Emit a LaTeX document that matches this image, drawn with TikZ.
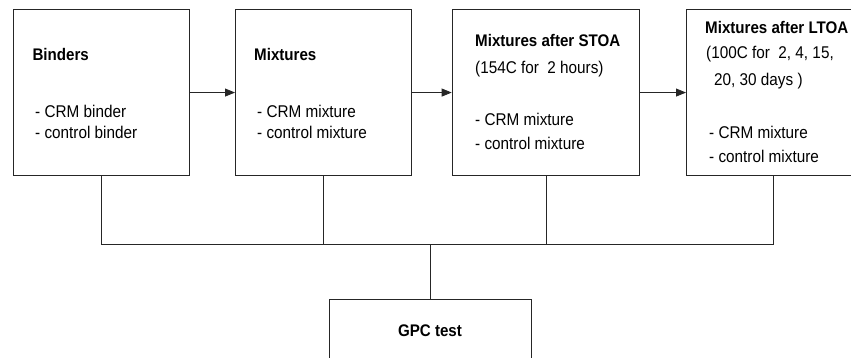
\documentclass[tikz,border=0pt]{standalone}
\usepackage{fontspec}
\setmainfont{Liberation Sans}[FakeStretch=0.9]
\usetikzlibrary{arrows.meta}
\begin{document}
\begin{tikzpicture}[x=1pt,y=-1pt,
  box/.style={draw=black!85, line width=0.8pt, inner sep=0pt, anchor=north west},
  txt/.style={inner sep=0pt, anchor=base west, font=\fontsize{17}{20}\selectfont},
  ttl/.style={inner sep=0pt, anchor=base west, font=\fontsize{16.8}{20}\selectfont\bfseries},
  conn/.style={draw=black!85, line width=0.8pt},
  arr/.style={conn, -{Triangle[length=10pt,width=8pt]}}]
\useasboundingbox (0,0) rectangle (851,358);
% boxes
\node[box, minimum width=176pt, minimum height=166.3pt] (b1) at (12.7,9) {};
\node[box, minimum width=175.7pt, minimum height=166.3pt] (b2) at (235,9) {};
\node[box, minimum width=187.6pt, minimum height=166.3pt] (b3) at (451.7,9) {};
\node[box, minimum width=174pt, minimum height=166.3pt] (b4) at (686,9) {};
\node[box, minimum width=202pt, minimum height=90pt] (g) at (329,299) {};
% texts box 1
\node[ttl] (t1a) at (32.3,61) {Binders};
\node[txt] (t1b) at (35,118) {- CRM binder};
\node[txt] (t1c) at (35,139) {- control binder};
% box 2
\node[ttl] (t2a) at (254,61) {Mixtures};
\node[txt] (t2b) at (257,118) {- CRM mixture};
\node[txt] (t2c) at (257,139) {- control mixture};
% box 3
\node[ttl] (t3a) at (475,47) {Mixtures after STOA};
\node[txt] (t3b) at (475,74) {(154C for\ \ 2 hours)};
\node[txt] (t3c) at (475,126) {- CRM mixture};
\node[txt] (t3d) at (475,150) {- control mixture};
% box 4
\node[ttl] (t4a) at (705,34) {Mixtures after LTOA};
\node[txt] (t4b) at (706,59) {(100C for\ \ 2, 4, 15,};
\node[txt] (t4c) at (714,86) {20, 30 days )};
\node[txt] (t4d) at (709,139) {- CRM mixture};
\node[txt] (t4e) at (709,163) {- control mixture};
% GPC
\node[ttl, anchor=base] (tg) at (430,336) {GPC test};
% arrows
\draw[arr] (b1.east) -- (b2.west);
\draw[arr] (b2.east) -- (b3.west);
\draw[arr] (b3.east) -- (b4.west);
% bus
\coordinate (j1) at (b1.south |- 0,244);
\coordinate (j2) at (b2.south |- 0,244);
\coordinate (j3) at (b3.south |- 0,244);
\coordinate (j4) at (b4.south |- 0,244);
\coordinate (jg) at (g.north |- 0,244);
\draw[conn] (b1.south) -- (j1) -- (j4) -- (b4.south);
\draw[conn] (b2.south) -- (j2);
\draw[conn] (b3.south) -- (j3);
\draw[conn] (jg) -- (g.north);
\end{tikzpicture}
\end{document}
